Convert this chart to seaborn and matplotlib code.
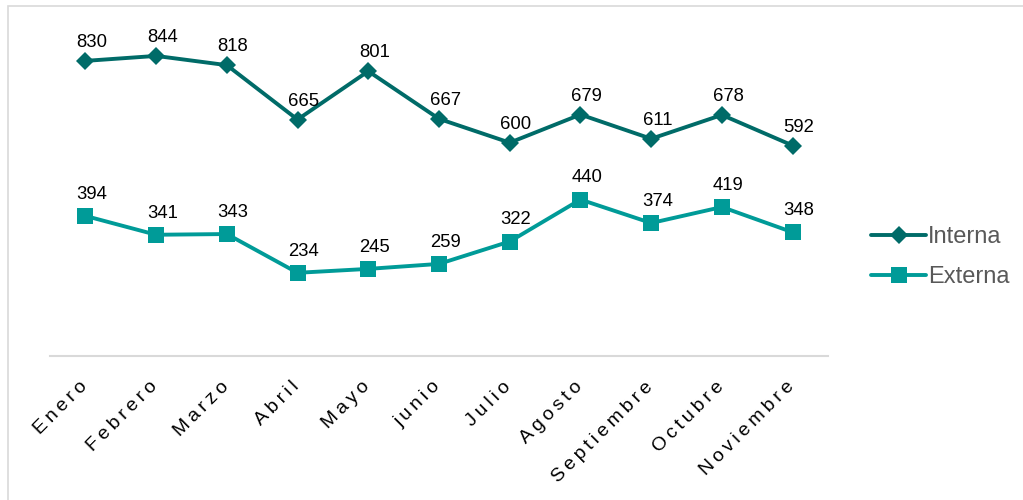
import matplotlib
matplotlib.use("Agg")
import matplotlib.pyplot as plt
import matplotlib.transforms as mtransforms
import seaborn as sns
import pandas as pd
from matplotlib.patches import Rectangle

months = ["Enero", "Febrero", "Marzo", "Abril", "Mayo", "junio", "Julio",
          "Agosto", "Septiembre", "Octubre", "Noviembre"]
interna = [830, 844, 818, 665, 801, 667, 600, 679, 611, 678, 592]
externa = [394, 341, 343, 234, 245, 259, 322, 440, 374, 419, 348]

c_int = "#006B68"
c_ext = "#009B98"

sns.set_theme(style="white")
plt.rcParams['font.family'] = ['Liberation Sans', 'DejaVu Sans']

fig = plt.figure(figsize=(10.23, 5.0), dpi=100)
ax = fig.add_axes([50/1023, 144/500, 778/1023, (356-36)/500])

df = pd.DataFrame({"mes": months, "Interna": interna, "Externa": externa})

sns.lineplot(data=df, x="mes", y="Interna", sort=False, color=c_int, lw=2.8,
             marker="D", markersize=9.5, markeredgewidth=0, label="Interna", ax=ax)
sns.lineplot(data=df, x="mes", y="Externa", sort=False, color=c_ext, lw=2.8,
             marker="s", markersize=12, markeredgewidth=0, label="Externa", ax=ax)

for i, v in enumerate(interna):
    ax.annotate(str(v), (i, v), xytext=(4.5, 7), textcoords="offset points",
                ha="center", va="bottom", fontsize=13.3, color="#000000")
for i, v in enumerate(externa):
    ax.annotate(str(v), (i, v), xytext=(4.5, 9.5), textcoords="offset points",
                ha="center", va="bottom", fontsize=13.3, color="#000000")

ax.set_xlim(-0.5, len(months) - 0.5)
ax.set_ylim(0, 900)
ax.set_yticks([])
ax.set_xlabel("")
ax.set_ylabel("")
for s in ["top", "right", "left"]:
    ax.spines[s].set_visible(False)
ax.spines["bottom"].set_color("#d9d9d9")
ax.spines["bottom"].set_linewidth(1.5)

spaced = ["\u2009".join(m) for m in months]
ax.set_xticks(range(len(months)))
ax.set_xticklabels(spaced, rotation=45, ha="right", rotation_mode="anchor",
                   fontsize=14, color="#000000")
ax.tick_params(axis="x", length=0, pad=16)
shift = mtransforms.ScaledTranslation(-7/100, 0, fig.dpi_scale_trans)
for lab in ax.get_xticklabels():
    lab.set_transform(lab.get_transform() + shift)

ax.legend(loc="center left", bbox_to_anchor=(862/1023, 243/500),
          bbox_transform=fig.transFigure, frameon=False, fontsize=17,
          labelcolor="#595959", handlelength=2.3, handletextpad=0.1,
          labelspacing=0.75, borderaxespad=0)

fig.patches.append(Rectangle((8/1023, -0.1), 1.2, 1.1 - 6/500,
                             transform=fig.transFigure, fill=False,
                             edgecolor="#d9d9d9", lw=1.2))

fig.savefig("out.png", dpi=100)
